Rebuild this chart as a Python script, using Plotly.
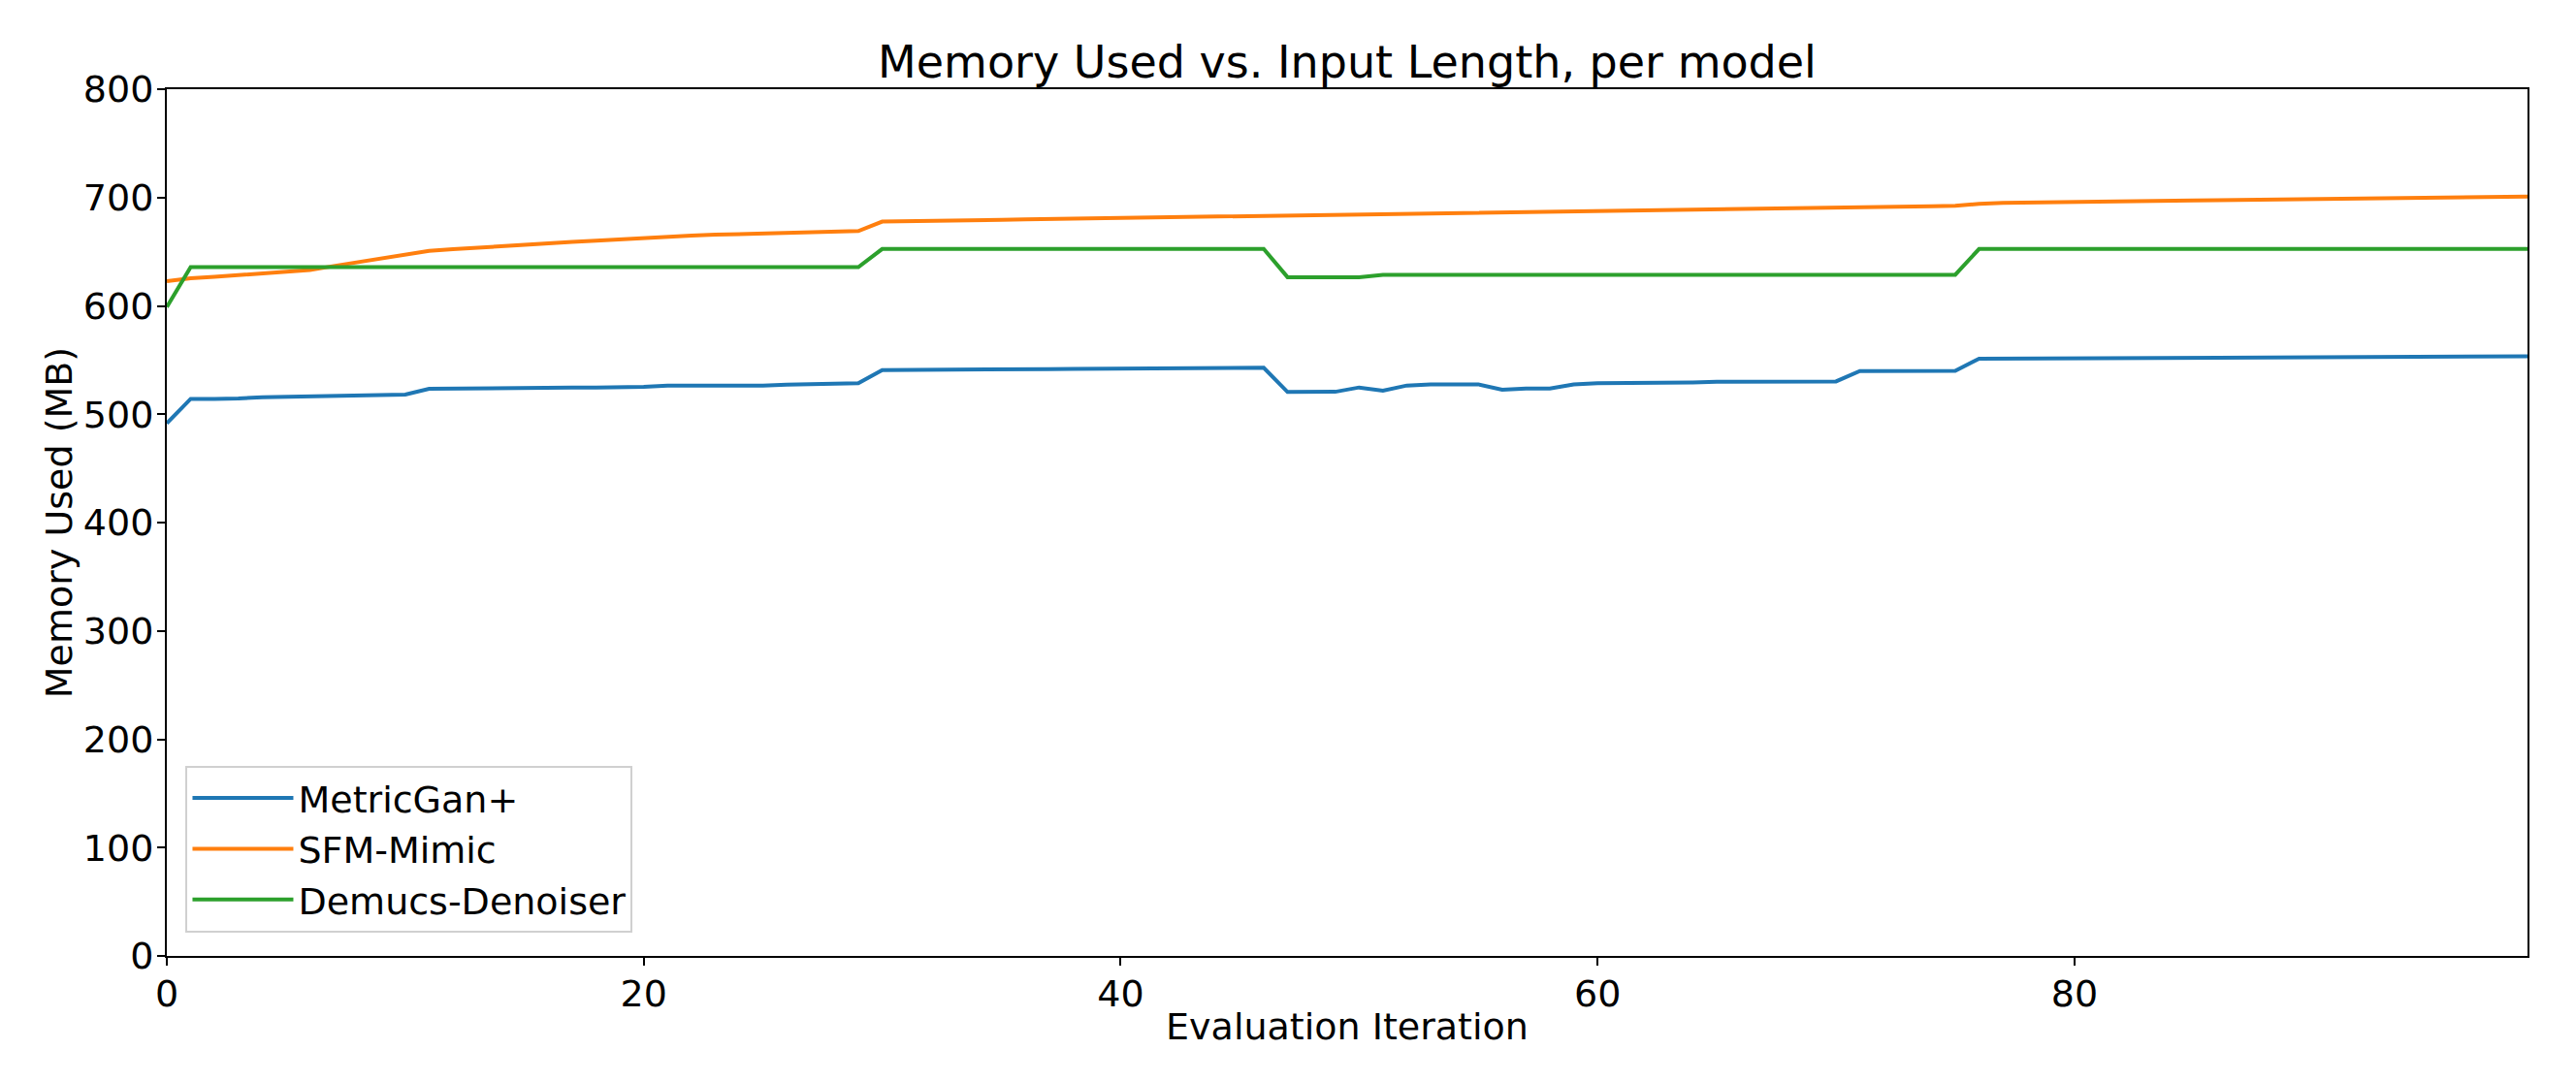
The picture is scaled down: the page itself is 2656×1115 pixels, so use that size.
import plotly.graph_objects as go

iterations = list(range(100))

metricgan_plus = [
    491.6, 514.2, 514.2, 514.5, 515.7, 516.0, 516.3, 516.9, 516.9, 517.2,
    518.1, 523.5, 523.8, 523.8, 524.1, 524.1, 524.7, 524.7, 524.7, 524.7,
    525.3, 526.5, 526.5, 526.5, 526.5, 526.5, 527.4, 527.7, 528.0, 528.6,
    540.8, 540.8, 541.0, 541.0, 541.2, 541.4, 541.5, 541.6, 541.8, 541.9,
    542.0, 542.2, 542.3, 542.5, 542.6, 542.8, 542.9, 520.5, 520.5, 520.7,
    524.7, 521.7, 526.5, 527.6, 527.6, 527.6, 522.6, 523.8, 523.8, 527.6,
    528.6, 528.6, 528.8, 529.4, 529.4, 530.0, 530.0, 530.1, 530.2, 530.2,
    530.3, 539.8, 539.8, 539.9, 540.0, 540.1, 551.2, 551.3, 551.4, 551.5,
    551.6, 551.7, 551.8, 551.9, 552.0, 552.1, 552.2, 552.3, 552.4, 552.5,
    552.6, 552.7, 552.8, 552.9, 553.0, 553.1, 553.2, 553.3, 553.4, 553.5,
]

sfm_mimic = [
    622.8, 625.5, 626.9, 628.3, 629.7, 631.1, 633.0, 636.8, 640.4, 644.0,
    647.5, 650.8, 652.3, 653.8, 655.2, 656.5, 657.8, 659.0, 660.2, 661.5,
    662.7, 663.8, 664.8, 665.7, 666.4, 666.9, 667.4, 667.9, 668.5, 669.1,
    677.8, 678.3, 678.6, 678.9, 679.2, 679.5, 679.9, 680.2, 680.5, 680.8,
    681.1, 681.4, 681.7, 682.0, 682.3, 682.6, 683.0, 683.3, 683.6, 683.9,
    684.2, 684.5, 684.8, 685.1, 685.4, 685.7, 686.0, 686.3, 686.6, 686.9,
    687.2, 687.5, 687.8, 688.1, 688.4, 688.7, 689.0, 689.3, 689.6, 689.9,
    690.3, 690.7, 691.1, 691.5, 692.0, 692.4, 694.2, 695.0, 695.4, 695.7,
    696.0, 696.3, 696.6, 696.9, 697.2, 697.4, 697.6, 697.8, 698.0, 698.3,
    698.6, 698.8, 699.1, 699.4, 699.7, 700.0, 700.3, 700.6, 700.8, 701.0,
]

demucs_denoiser = [
    599.0, 635.8, 635.8, 635.8, 635.8, 635.8, 635.8, 635.8, 635.8, 635.8,
    635.8, 635.8, 635.8, 635.8, 635.8, 635.8, 635.8, 635.8, 635.8, 635.8,
    635.8, 635.8, 635.8, 635.8, 635.8, 635.8, 635.8, 635.8, 635.8, 635.8,
    652.5, 652.5, 652.5, 652.5, 652.5, 652.5, 652.5, 652.5, 652.5, 652.5,
    652.5, 652.5, 652.5, 652.5, 652.5, 652.5, 652.5, 626.5, 626.5, 626.5,
    626.5, 628.7, 628.7, 628.7, 628.7, 628.7, 628.7, 628.7, 628.7, 628.7,
    628.7, 628.7, 628.7, 628.7, 628.7, 628.7, 628.7, 628.7, 628.7, 628.7,
    628.7, 628.7, 628.7, 628.7, 628.7, 628.7, 652.5, 652.5, 652.5, 652.5,
    652.5, 652.5, 652.5, 652.5, 652.5, 652.5, 652.5, 652.5, 652.5, 652.5,
    652.5, 652.5, 652.5, 652.5, 652.5, 652.5, 652.5, 652.5, 652.5, 652.5,
]

series_names = ["MetricGan+", "SFM-Mimic", "Demucs-Denoiser"]
series_values = [metricgan_plus, sfm_mimic, demucs_denoiser]
series_colors = ["#1f77b4", "#ff7f0e", "#2ca02c"]

x_ticks = [0, 20, 40, 60, 80]
y_ticks = [0, 100, 200, 300, 400, 500, 600, 700, 800]

FONT = "DejaVu Sans"

# page body has an 8px default margin; size the figure so it fits the window
W, H = 2640, 1099

fig = go.Figure()
for name, vals, col in zip(series_names, series_values, series_colors):
    fig.add_trace(go.Scatter(
        x=iterations, y=vals, mode="lines", name=name,
        line=dict(color=col, width=4),
    ))

fig.update_layout(
    width=W, height=H,
    margin=dict(l=164, r=42, t=84, b=121, autoexpand=False),
    paper_bgcolor="white", plot_bgcolor="white",
    font=dict(family=FONT, size=38, color="black"),
    title=dict(
        text="Memory Used vs. Input Length, per model",
        x=0.5, xref="paper", xanchor="center",
        y=1 - 56 / H, yref="container", yanchor="middle",
        font=dict(family=FONT, size=46, color="black"),
    ),
    legend=dict(
        x=0.008, y=0.027, xanchor="left", yanchor="bottom",
        bgcolor="rgba(255,255,255,0.8)", bordercolor="#d0d0d0", borderwidth=2,
        font=dict(family=FONT, size=38, color="black"),
        itemwidth=104,
    ),
    showlegend=True,
)

fig.update_xaxes(
    range=[0, 99], tickvals=x_ticks, ticktext=[str(t) for t in x_ticks],
    showgrid=False, zeroline=False,
    showline=True, mirror=True, linecolor="black", linewidth=2,
    ticks="outside", ticklen=8, tickwidth=2, tickcolor="black",
    ticklabelstandoff=-4,
    tickfont=dict(family=FONT, size=38, color="black"),
    title=dict(text="Evaluation Iteration", standoff=0,
               font=dict(family=FONT, size=38, color="black")),
    automargin=False,
)
fig.update_yaxes(
    range=[0, 800], tickvals=y_ticks, ticktext=[str(t) for t in y_ticks],
    showgrid=False, zeroline=False,
    showline=True, mirror=True, linecolor="black", linewidth=2,
    ticks="outside", ticklen=8, tickwidth=2, tickcolor="black",
    ticklabelstandoff=-4,
    tickfont=dict(family=FONT, size=38, color="black"),
    title=dict(text="Memory Used (MB)", standoff=0,
               font=dict(family=FONT, size=38, color="black")),
    automargin=False,
)

fig.write_html("out.html")
